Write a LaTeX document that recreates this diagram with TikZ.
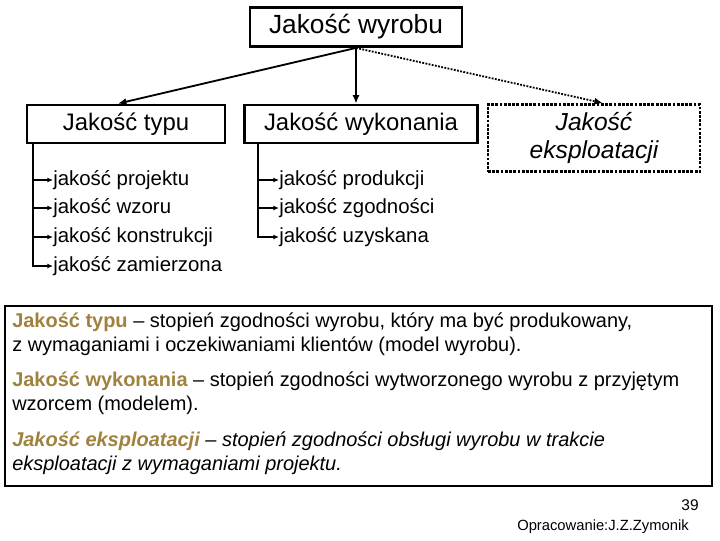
\documentclass[tikz,border=0pt]{standalone}
\usepackage{fontspec}
\setmainfont{Liberation Sans}
\usepackage{xcolor}
\usetikzlibrary{arrows.meta,positioning}
\definecolor{opis-gold}{HTML}{A0823E}

\begin{document}
\begin{tikzpicture}[x=0.025cm, y=-0.025cm,
    glowny/.style={draw, line width=2pt, font=\fontsize{18.7}{21}\selectfont, inner sep=0pt},
    rodzaj/.style={draw, line width=2pt, font=\fontsize{17}{19}\selectfont, minimum height=0.95cm, inner sep=0pt},
    pozycja/.style={anchor=west, inner sep=0pt, font=\fontsize{14.5}{16}\selectfont},
    strzalka/.style={-{Latex[length=6pt,width=5pt]}, line width=1.3pt},
    galaz/.style={-{Latex[length=4pt,width=3.5pt]}, line width=0.9pt},
    akapit/.style={anchor=north west, align=left, inner sep=0pt, font=\fontsize{14.2}{17}\selectfont}]
  \useasboundingbox (0,0) rectangle (720,540);

  % glowne pojecie
  \node[glowny, minimum width=5.3cm, minimum height=0.975cm] (wyrobu) at (356,27) {Jakość wyrobu};

  % trzy rodzaje jakosci
  \node[rodzaj, minimum width=4.95cm] (typu) at (126,124) {Jakość typu};
  \node[rodzaj, minimum width=5.83cm] (wykonania) at (361,124) {Jakość wykonania};
  \node[draw, densely dotted, line width=2pt, minimum width=5.3cm, minimum height=1.675cm,
        align=center, font=\fontsize{17.5}{20.5}\selectfont\itshape] (eksploatacji) at (594,138)
        {Jakość\\eksploatacji};

  \draw[strzalka] (wyrobu.south) -- ([xshift=-0.2cm]typu.north);
  \draw[strzalka] (wyrobu.south) -- (wyrobu.south |- wykonania.north);
  \draw[strzalka, densely dotted] (wyrobu.south) -- ([xshift=0.22cm]eksploatacji.north);

  % jakosc typu
  \coordinate (typu-pion) at (33,143);
  \node[pozycja] (projektu) at (53,180) {jakość projektu};
  \node[pozycja] (wzoru) at (53,208) {jakość wzoru};
  \node[pozycja] (konstrukcji) at (53,237) {jakość konstrukcji};
  \node[pozycja] (zamierzona) at (53,266) {jakość zamierzona};
  \foreach \n in {projektu, wzoru, konstrukcji, zamierzona}
    \draw[galaz] (typu-pion) |- (\n.west);

  % jakosc wykonania
  \coordinate (wyk-pion) at (258,143);
  \node[pozycja] (produkcji) at (279,180) {jakość produkcji};
  \node[pozycja] (zgodnosci) at (279,208) {jakość zgodności};
  \node[pozycja] (uzyskana) at (279,237) {jakość uzyskana};
  \foreach \n in {produkcji, zgodnosci, uzyskana}
    \draw[galaz] (wyk-pion) |- (\n.west);

  % definicje
  \draw[line width=2pt] (5,306) rectangle (712,486);
  \node[akapit] (def-typu) at (12,313)
    {\textcolor{opis-gold}{\bfseries Jakość typu} -- stopień zgodności wyrobu, który ma być produkowany,\\
     z wymaganiami i oczekiwaniami klientów (model wyrobu).};
  \node[akapit] (def-wyk) at (12,372)
    {\textcolor{opis-gold}{\bfseries Jakość wykonania} -- stopień zgodności wytworzonego wyrobu z przyjętym\\
     wzorcem (modelem).};
  \node[akapit, font=\fontsize{14.2}{17}\selectfont\itshape] (def-eksp) at (12,432)
    {\textcolor{opis-gold}{\bfseries Jakość eksploatacji} -- stopień zgodności obsługi wyrobu w trakcie\\
     eksploatacji z wymaganiami projektu.};

  % stopka
  \node[font=\fontsize{11}{13}\selectfont] (strona) at (690,505) {39};
  \node[font=\fontsize{10.5}{12}\selectfont] (autor) at (603,527) {Opracowanie:J.Z.Zymonik};
\end{tikzpicture}
\end{document}
